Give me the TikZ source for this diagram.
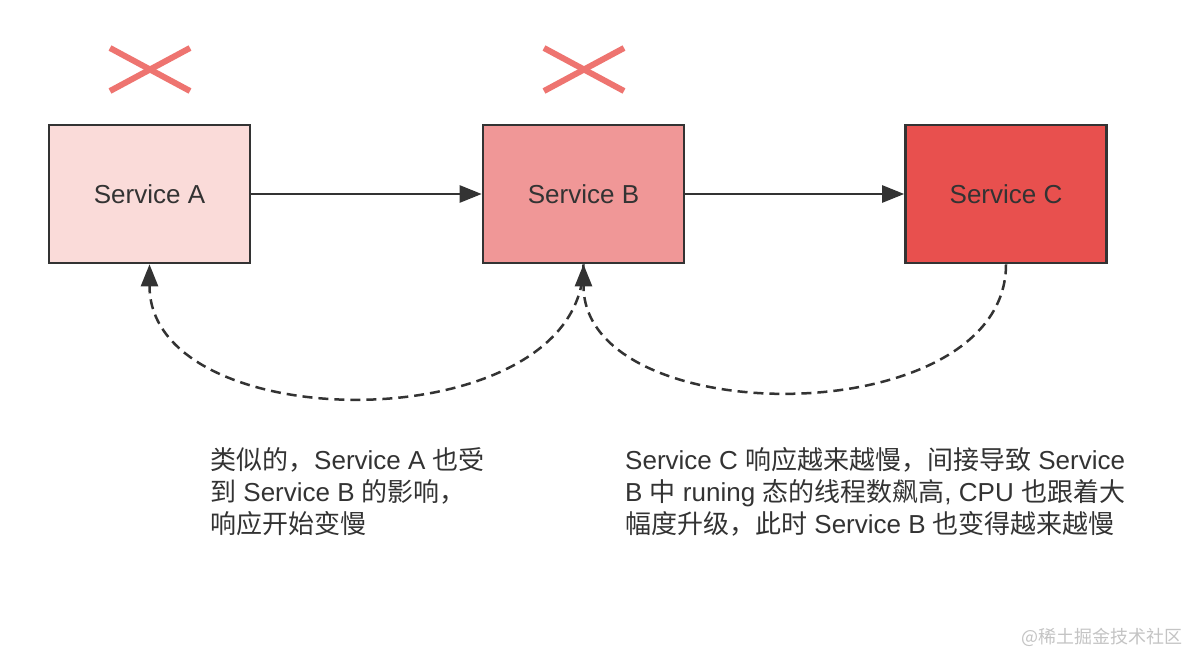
\documentclass[tikz,border=0pt]{standalone}
\usepackage{fontspec}
\setmainfont{Liberation Sans}
\newfontfamily\cjk{Noto Sans CJK SC}[Scale=1.0]
\newcommand\zh[1]{{\cjk #1}}
\usetikzlibrary{arrows.meta}
\definecolor{txt}{HTML}{333333}
\definecolor{fillA}{HTML}{FADBD9}
\definecolor{fillB}{HTML}{F09797}
\definecolor{fillC}{HTML}{E8504E}
\definecolor{crossred}{HTML}{EE7470}
\definecolor{wmgray}{HTML}{C4C4C4}
\tikzset{
  svcbox/.style={draw=txt, line width=2.6pt, minimum width=201pt, minimum height=138pt,
    inner sep=0pt, text=txt, font=\fontsize{26}{32}\selectfont},
  conn/.style={draw=txt, line width=2.5pt, -{Triangle[length=22pt,width=17pt]}},
  dconn/.style={draw=txt, line width=2.5pt, dash pattern=on 10pt off 6pt,
    -{Triangle[length=22pt,width=17pt]}},
  crossline/.style={draw=crossred, line width=6pt},
  para/.style={anchor=base west, inner sep=0pt, text=txt, font=\fontsize{26}{32}\selectfont},
}
\begin{document}
\begin{tikzpicture}[x=1pt,y=-1pt]
\useasboundingbox[fill=white] (0,0) rectangle (1190,653);

% crosses
\draw[crossline] (110,48) -- (190,91);
\draw[crossline] (110,91) -- (190,48);
\draw[crossline] (544,48) -- (624,91);
\draw[crossline] (544,91) -- (624,48);

% boxes
\node[svcbox, fill=fillA] (A) at (149.5,194) {Service A};
\node[svcbox, fill=fillB] (B) at (583.5,194) {Service B};
\node[svcbox, fill=fillC] (C) at (1006,194) {Service C};

% connectors
\draw[conn] (A.east) -- (B.west);
\draw[conn] (B.east) -- (C.west);
\draw[dconn] (C.south) .. controls +(0,169) and +(0,169) .. (B.south);
\draw[dconn] (B.south) .. controls +(0,177) and +(0,177) .. (A.south);

% left text
\node[para] (l1) at (210,469) {\zh{类似的，}Service A \zh{也受}};
\node[para] (l2) at (210,501) {\zh{到} Service B \zh{的影响，}};
\node[para] (l3) at (210,533) {\zh{响应开始变慢}};

% right text
\node[para] (r1) at (625,469) {Service C \zh{响应越来越慢，间接导致} Service};
\node[para] (r2) at (625,501) {B \zh{中} runing \zh{态的线程数飙高}, CPU \zh{也跟着大}};
\node[para] (r3) at (625,533) {\zh{幅度升级，此时} Service B \zh{也变得越来越慢}};

% watermark
\node[anchor=base east, inner sep=0pt, text=wmgray, font=\fontsize{18}{22}\selectfont] (wm) at (1183,643) {\cjk @稀土掘金技术社区};
\end{tikzpicture}
\end{document}
